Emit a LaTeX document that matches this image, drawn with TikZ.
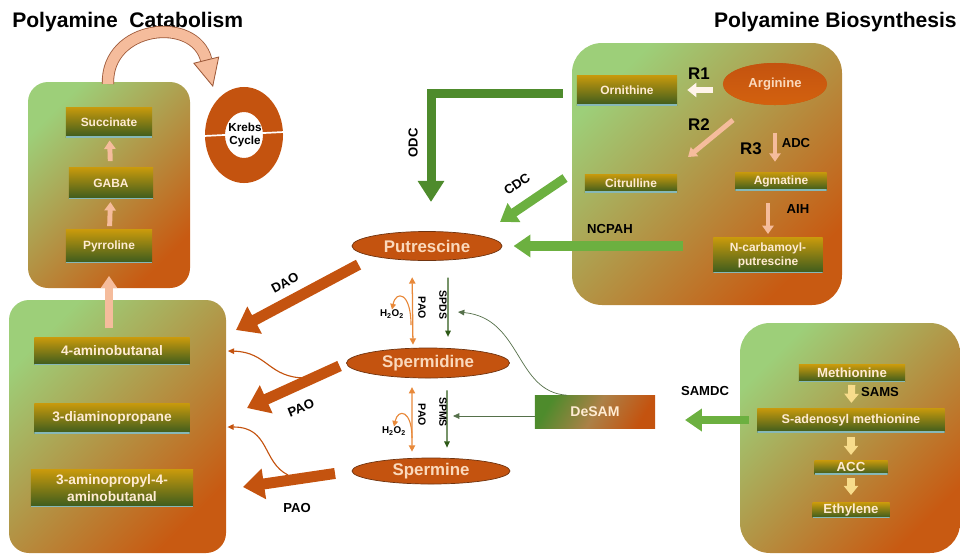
\documentclass[tikz,border=0pt]{standalone}
\usepackage{fontspec}
\setmainfont{Liberation Sans}
\usetikzlibrary{arrows.meta,shapes.geometric}

\definecolor{pgreen}{HTML}{9DCF79}
\definecolor{ptan}{HTML}{A68C55}
\definecolor{porange}{HTML}{C85A12}
\definecolor{mgold}{HTML}{C99A0C}
\definecolor{mgreen}{HTML}{3D5C1E}
\definecolor{mline}{HTML}{86B8B8}
\definecolor{cream}{HTML}{FFEBD2}
\definecolor{peach}{HTML}{FAD9BC}
\definecolor{rust}{HTML}{C4530F}
\definecolor{rustdark}{HTML}{703410}
\definecolor{salmon}{HTML}{F5BC9C}
\definecolor{salmondark}{HTML}{9E5A3A}
\definecolor{lgreen}{HTML}{6CB040}
\definecolor{dgreen}{HTML}{4E8B2C}
\definecolor{enzgreen}{HTML}{2E5A18}
\definecolor{thingr}{HTML}{55704A}
\definecolor{paoorange}{HTML}{E8893A}
\definecolor{sunny}{HTML}{F7DC8C}
\definecolor{offwhite}{HTML}{FFF4EA}

\tikzset{
  panel/.style={top color=pgreen, middle color=ptan, bottom color=porange, shading angle=45, rounded corners=0.5cm},
  metab/.style={rectangle, top color=mgold, bottom color=mgreen, text=cream, inner sep=0pt, align=center,
    font=\bfseries\fontsize{8.5}{10}\selectfont,
    path picture={\draw[mline, line width=0.8pt] (path picture bounding box.south west) -- (path picture bounding box.south east);}},
  bigtext/.style={font=\bfseries\fontsize{9.8}{11.5}\selectfont},
  poly/.style={ellipse, fill=rust, draw=rustdark, line width=0.5pt, text=peach, inner sep=0pt,
    font=\bfseries\fontsize{12}{14}\selectfont},
  lbl/.style={font=\bfseries\fontsize{9.3}{11}\selectfont, inner sep=0pt},
  rlbl/.style={font=\bfseries\fontsize{12}{14}\selectfont, inner sep=0pt},
  smalllbl/.style={font=\bfseries\fontsize{7.5}{9}\selectfont, inner sep=0pt},
  titletext/.style={font=\bfseries\fontsize{15}{18}\selectfont, inner sep=0pt},
  fatarrow/.style={rust, line width=7.8pt, -{Triangle[width=21pt,length=15pt]}},
  greenarrow/.style={lgreen, line width=6.5pt, -{Triangle[width=15.5pt,length=12pt]}},
  odcarrow/.style={dgreen, line width=6.4pt, line join=miter, -{Triangle[width=18pt,length=15pt]}},
  salarrow/.style={salmon, line width=3.5pt, -{Triangle[width=8pt,length=6pt]}},
  sunarrow/.style={sunny, line width=5pt, -{Triangle[width=10pt,length=6.5pt]}},
  whitearrow/.style={offwhite, line width=4.3pt, -{Triangle[width=10pt,length=6.5pt]}},
  krebsarrow/.style={draw=salmondark, double=salmon, double distance=7.5pt, line width=0.6pt,
    -{Triangle[width=19pt,length=20pt,fill=salmon]}},
  paoarrow/.style={paoorange, line width=0.9pt, {Triangle[width=4.5pt,length=4.5pt]}-{Triangle[width=4.5pt,length=4.5pt]}},
  enzarrow/.style={enzgreen, line width=0.8pt, -{Triangle[width=4pt,length=4.5pt]}},
  thinrust/.style={rust, line width=0.8pt, -{Triangle[width=4pt,length=4.5pt]}},
  thinorange/.style={paoorange, line width=0.8pt, -{Triangle[width=4pt,length=4pt]}},
  thingreen/.style={thingr, line width=0.5pt, -{Triangle[width=4pt,length=4.5pt]}}
}

\begin{document}
\begin{tikzpicture}[x=0.025cm, y=-0.025cm]
  \useasboundingbox (0,0) rectangle (960,554);

  % Titoli
  \node[titletext, anchor=west] (catT) at (12,22) {Polyamine\ \ Catabolism};
  \node[titletext, anchor=east] (bioT) at (957,22) {Polyamine Biosynthesis};

  % Riquadri sfumati
  \shade[panel] (28,82) rectangle (190,288);
  \shade[panel] (9,300) rectangle (226,553);
  \shade[panel, rounded corners=0.75cm] (572,43) rectangle (842,305);
  \shade[panel, rounded corners=0.75cm] (740,323) rectangle (960,553);

  % Catabolismo: succinato, GABA, pirrolina
  \node[metab, minimum width=2.15cm, minimum height=0.75cm] (succ) at (109,122) {Succinate};
  \node[metab, minimum width=2.1cm, minimum height=0.78cm] (gaba) at (111,183) {GABA};
  \node[metab, minimum width=2.15cm, minimum height=0.82cm] (pyrr) at (109,246) {Pyrroline};
  \draw[salarrow, shorten <=0.15cm, shorten >=0.08cm] (gaba) -- (succ);
  \draw[salarrow, shorten <=0.08cm, shorten >=0.08cm] (pyrr) -- (gaba);

  % Ciclo di Krebs
  \fill[rust, even odd rule] (244,135) ellipse (0.975cm and 1.2cm) (244,135) ellipse (0.475cm and 0.575cm);
  \draw[white, line width=1.2pt] (204,136) -- (284,132);
  \node[smalllbl, align=center, font=\bfseries\fontsize{8.3}{9.5}\selectfont] (krebs) at (245,135) {Krebs\\Cycle};
  \coordinate (cattop) at (108,84);
  \coordinate (krebsin) at (213,87);
  \draw[krebsarrow] (cattop) .. controls (106,25) and (195,15) .. (krebsin);

  % Prodotti della degradazione
  \node[metab, bigtext, minimum width=3.875cm, minimum height=0.675cm] (amb) at (112,351) {4-aminobutanal};
  \node[metab, bigtext, minimum width=3.875cm, minimum height=0.75cm] (dap) at (112,418) {3-diaminopropane};
  \node[metab, bigtext, minimum width=4.05cm, minimum height=0.925cm] (apab) at (112,488) {3-aminopropyl-4-\\aminobutanal};
  \draw[salmon, line width=5pt, -{Triangle[width=11pt,length=8.5pt]}, shorten <=0.22cm, shorten >=0.33cm] (amb.north -| pyrr) -- (pyrr.south);

  % Biosintesi: arginina e derivati
  \node[metab, minimum width=2.5cm, minimum height=0.75cm] (orn) at (627,90) {Ornithine};
  \node[poly, top color=rust, bottom color=porange!80!orange, draw=none, minimum width=2.6cm, minimum height=1.05cm,
    font=\bfseries\fontsize{9.3}{11}\selectfont] (arg) at (775,84) {Arginine};
  \node[metab, minimum width=2.3cm, minimum height=0.45cm] (cit) at (631,183) {Citrulline};
  \node[metab, minimum width=2.275cm, minimum height=0.45cm] (agm) at (781,181) {Agmatine};
  \node[metab, minimum width=2.725cm, minimum height=0.875cm] (ncp) at (768,255) {N-carbamoyl-\\putrescine};
  \node[rlbl] (r1) at (699,74) {R1};
  \node[rlbl] (r2) at (699,125) {R2};
  \node[rlbl] (r3) at (751,149) {R3};
  \node[lbl] (adc) at (796,143) {ADC};
  \node[lbl] (aih) at (798,209) {AIH};
  \node[lbl] (ncpah) at (610,229) {NCPAH};
  \coordinate (r2a) at (733,120);
  \coordinate (r2b) at (688,157);
  \draw[whitearrow, shorten <=0.25cm, shorten >=0.25cm] (arg.west |- orn) -- (orn.east);
  \draw[salarrow] (r2a) -- (r2b);
  \draw[salarrow, shorten <=0.68cm, shorten >=0.25cm] (arg.south) -- (arg.south |- agm.north);
  \draw[salarrow, shorten <=0.33cm, shorten >=0.08cm] (ncp.north |- agm.south) -- (ncp.north);

  % Poliammine
  \node[poly, minimum width=3.75cm, minimum height=0.725cm] (put) at (427,246) {Putrescine};
  \node[poly, minimum width=4.075cm, minimum height=0.75cm] (spd) at (428,363) {Spermidine};
  \node[poly, minimum width=3.95cm, minimum height=0.65cm] (spm) at (431,471) {Spermine};

  % Frecce verdi verso la putrescina
  \coordinate (ncpahst) at (683,246);
  \coordinate (cdcA) at (565,178);
  \coordinate (cdcB) at (500,222);
  \coordinate (odcend) at (431,202);
  \draw[greenarrow, shorten >=0.28cm] (ncpahst) -- (put.east);
  \draw[greenarrow] (cdcA) -- (cdcB);
  \draw[odcarrow] (orn.west) ++(-14,3) -| (odcend);
  \node[lbl, rotate=90] (odc) at (413,143) {ODC};
  \node[lbl, rotate=34] (cdc) at (517,184) {CDC};

  % Frecce del catabolismo
  \coordinate (daoB) at (236,330);
  \coordinate (pao1B) at (247,408);
  \coordinate (pao2B) at (243,487);
  \draw[fatarrow, shorten <=0.43cm] (put.south west) -- (daoB);
  \draw[fatarrow, shorten <=0.18cm] (spd.west) -- (pao1B);
  \draw[fatarrow, shorten <=0.42cm] (spm.west) -- (pao2B);
  \node[lbl, rotate=28] (dao) at (285,283) {DAO};
  \node[lbl, rotate=22] (pao1) at (301,408) {PAO};
  \node[lbl] (pao2) at (297,508) {PAO};
  \coordinate (spdleak) at (306,378);
  \coordinate (spmleak) at (288,475);
  \draw[thinrust] (spdleak) .. controls (268,378) and (268,352) .. ([xshift=0.95cm]amb.east);
  \draw[thinrust] (spmleak) .. controls (262,462) and (270,427) .. ([xshift=0.94cm, yshift=-0.225cm]dap.east);

  % Interconversioni tra le poliammine
  \draw[paoarrow, shorten <=0.41cm, shorten >=0.075cm] ([xshift=-0.375cm]put.south) -- ([xshift=-0.375cm]spd.north);
  \draw[enzarrow, shorten <=0.42cm, shorten >=0.27cm] ([xshift=0.525cm]put.south) -- ([xshift=0.5cm]spd.north);
  \draw[paoarrow, shorten <=0.22cm, shorten >=0.15cm] ([xshift=-0.4cm]spd.south) -- ([xshift=-0.475cm]spm.north);
  \draw[enzarrow, shorten <=0.3cm, shorten >=0.25cm] ([xshift=0.475cm]spd.south) -- ([xshift=0.4cm]spm.north);
  \node[smalllbl, rotate=-90] (paoa) at (422,308) {PAO};
  \node[smalllbl, rotate=-90] (spds) at (443,305) {SPDS};
  \node[smalllbl, rotate=-90] (paob) at (422,415) {PAO};
  \node[smalllbl, rotate=-90] (spms) at (443,412) {SPMS};
  \node[smalllbl, font=\bfseries\fontsize{7}{8}\selectfont] (hpa) at (392,314) {H\textsubscript{2}O\textsubscript{2}};
  \node[smalllbl, font=\bfseries\fontsize{7}{8}\selectfont] (hpb) at (394,431) {H\textsubscript{2}O\textsubscript{2}};
  \coordinate (h2a) at (411,325);
  \coordinate (h2b) at (412,438);
  \draw[thinorange] (h2a) .. controls (411,292) and (396,290) .. (hpa.north);
  \draw[thinorange] (h2b) .. controls (412,410) and (398,408) .. (hpb.north);

  % DeSAM
  \node[rectangle, top color=dgreen, bottom color=rust, middle color=ptan!80!rust, shading angle=60,
    minimum width=3cm, minimum height=0.825cm, text=cream, font=\bfseries\fontsize{10}{12}\selectfont] (desam) at (595,412) {DeSAM};
  \coordinate (spmsin) at (453,416);
  \coordinate (spdsin) at (458,312);
  \draw[thingreen] (spmsin -| desam.west) -- (spmsin);
  \draw[thingreen] ([xshift=-0.7cm]desam.north) .. controls (515,392) and (522,318) .. (spdsin);

  % Metionina, SAM, ACC, etilene
  \node[metab, font=\bfseries\fontsize{9.4}{11}\selectfont, minimum width=2.65cm, minimum height=0.425cm] (met) at (852,373) {Methionine};
  \node[metab, font=\bfseries\fontsize{9}{11}\selectfont, minimum width=4.675cm, minimum height=0.6cm] (sam) at (851,420) {S-adenosyl methionine};
  \node[metab, font=\bfseries\fontsize{9.4}{11}\selectfont, minimum width=1.825cm, minimum height=0.35cm] (acc) at (851,467) {ACC};
  \node[metab, font=\bfseries\fontsize{9.4}{11}\selectfont, minimum width=1.925cm, minimum height=0.375cm] (eth) at (851,510) {Ethylene};
  \draw[sunarrow, shorten <=0.08cm, shorten >=0.12cm] (met) -- (sam);
  \draw[sunarrow, shorten <=0.12cm, shorten >=0.12cm] (sam) -- (acc);
  \draw[sunarrow, shorten <=0.1cm, shorten >=0.18cm] (acc) -- (eth);
  \node[lbl] (sams) at (880,392) {SAMS};
  \node[lbl] (samdc) at (705,391) {SAMDC};
  \coordinate (samdcend) at (685,420);
  \draw[greenarrow, line width=6pt, shorten <=0.2cm] (sam.west) -- (samdcend);
\end{tikzpicture}
\end{document}
